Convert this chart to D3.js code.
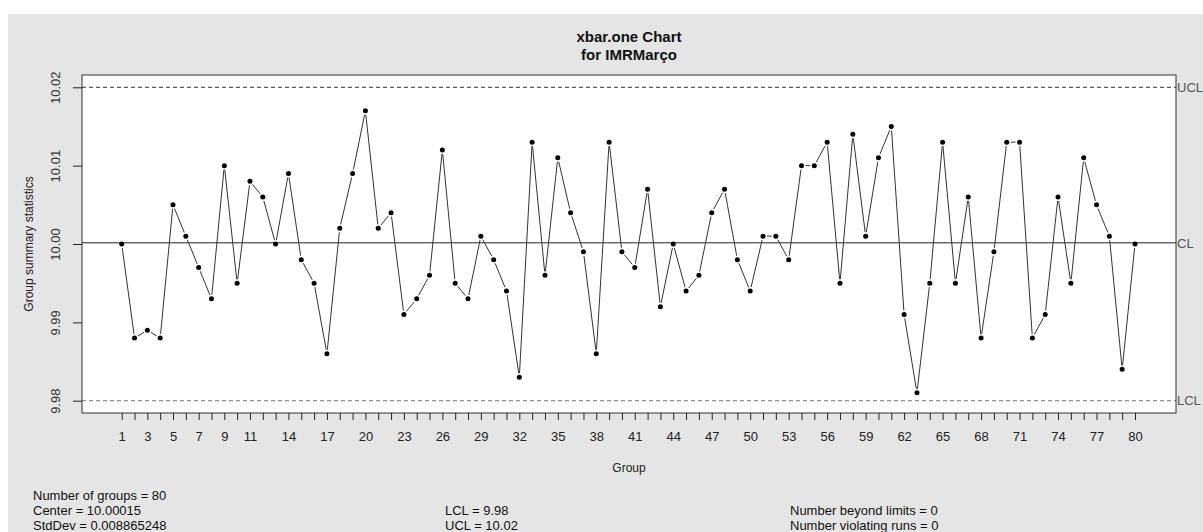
<!DOCTYPE html>
<html>
<head>
<meta charset="utf-8">
<script src="https://cdn.jsdelivr.net/npm/d3@7"></script>
<style>
  body { margin: 0; background: #fff; }
  text { font-family: "Liberation Sans", Arial, sans-serif; }
</style>
</head>
<body>
<svg id="chart" width="1203" height="532"></svg>
<script>
// group numbers and one value per group
var groups = d3.range(1, 81);
var values = [
  10.000, 9.988, 9.989, 9.988, 10.005, 10.001, 9.997, 9.993, 10.010, 9.995,
  10.008, 10.006, 10.000, 10.009, 9.998, 9.995, 9.986, 10.002, 10.009, 10.017,
  10.002, 10.004, 9.991, 9.993, 9.996, 10.012, 9.995, 9.993, 10.001, 9.998,
  9.994, 9.983, 10.013, 9.996, 10.011, 10.004, 9.999, 9.986, 10.013, 9.999,
  9.997, 10.007, 9.992, 10.000, 9.994, 9.996, 10.004, 10.007, 9.998, 9.994,
  10.001, 10.001, 9.998, 10.010, 10.010, 10.013, 9.995, 10.014, 10.001, 10.011,
  10.015, 9.991, 9.981, 9.995, 10.013, 9.995, 10.006, 9.988, 9.999, 10.013,
  10.013, 9.988, 9.991, 10.006, 9.995, 10.011, 10.005, 10.001, 9.984, 10.000
];
var xTickLabels = [1, 3, 5, 7, 9, 11, 14, 17, 20, 23, 26, 29, 32, 35, 38, 41, 44,
  47, 50, 53, 56, 59, 62, 65, 68, 71, 74, 77, 80];
var yTicks = [9.98, 9.99, 10.00, 10.01, 10.02];
var limitNames = ["UCL", "CL", "LCL"];
var limitValues = [10.02, 10.00015, 9.98];
var statsLeft = ["Number of groups = 80", "Center = 10.00015", "StdDev = 0.008865248"];
var statsMid = ["", "LCL = 9.98", "UCL = 10.02"];
var statsRight = ["", "Number beyond limits = 0", "Number violating runs = 0"];

var svg = d3.select("#chart");
var box = { left: 82, right: 1176, top: 75, bottom: 413 };

// gray device background
svg.append("rect")
  .attr("x", 8).attr("y", 14)
  .attr("width", 1195).attr("height", 518)
  .attr("fill", "#e5e5e5");

svg.append("rect")
  .attr("x", box.left).attr("y", box.top)
  .attr("width", box.right - box.left).attr("height", box.bottom - box.top)
  .attr("fill", "#fff");

var x = d3.scaleLinear().domain([1, 80]).range([121.7, 1135]);
var y = d3.scaleLinear().domain([9.98, 10.02]).range([400.7, 87.3]);

// title
svg.append("text").attr("x", 629).attr("y", 42)
  .attr("text-anchor", "middle").attr("font-size", 15).attr("font-weight", "bold")
  .attr("fill", "#111").text("xbar.one Chart");
svg.append("text").attr("x", 629).attr("y", 60)
  .attr("text-anchor", "middle").attr("font-size", 15).attr("font-weight", "bold")
  .attr("fill", "#111").text("for IMRMarço");

// control limit lines
limitNames.forEach(function (name, i) {
  var yy = y(limitValues[i]);
  svg.append("line")
    .attr("x1", box.left).attr("x2", box.right)
    .attr("y1", yy).attr("y2", yy)
    .attr("stroke", name == "CL" ? "#222" : (name == "UCL" ? "#333" : "#777"))
    .attr("stroke-width", 1)
    .attr("stroke-dasharray", name == "CL" ? null : "4,3");
  svg.append("text")
    .attr("x", box.right + 1).attr("y", yy)
    .attr("dy", "0.36em")
    .attr("font-size", 13).attr("fill", "#555")
    .text(name);
});

// lines with gaps around the points (type = "b")
var gap = 4;
for (var i = 0; i < values.length - 1; i++) {
  var x1 = x(groups[i]), y1 = y(values[i]),
  x2 = x(groups[i + 1]), y2 = y(values[i + 1]);
  var len = Math.sqrt((x2 - x1) * (x2 - x1) + (y2 - y1) * (y2 - y1));
  if (len <= 2 * gap) continue;
  var ux = (x2 - x1) / len, uy = (y2 - y1) / len;
  svg.append("line")
    .attr("x1", x1 + ux * gap).attr("y1", y1 + uy * gap)
    .attr("x2", x2 - ux * gap).attr("y2", y2 - uy * gap)
    .attr("stroke", "#333").attr("stroke-width", 1);
}

svg.selectAll("circle.pt")
  .data(values)
  .enter().append("circle")
  .attr("class", "pt")
  .attr("cx", function (d, i) { return x(groups[i]); })
  .attr("cy", function (d) { return y(d); })
  .attr("r", 2.5)
  .attr("fill", "#000");

// plot frame
svg.append("rect")
  .attr("x", box.left).attr("y", box.top)
  .attr("width", box.right - box.left).attr("height", box.bottom - box.top)
  .attr("fill", "none").attr("stroke", "#333").attr("stroke-width", 1);

// x axis
var xAxis = d3.axisBottom(x)
  .tickValues(groups)
  .tickSize(7)
  .tickPadding(12)
  .tickFormat(function (d) { return xTickLabels.indexOf(d) >= 0 ? d : ""; });
var gx = svg.append("g").attr("transform", "translate(0," + box.bottom + ")").call(xAxis);
gx.select(".domain").remove();
gx.selectAll(".tick line").attr("stroke", "#222");
gx.selectAll("text").attr("font-size", 13).attr("fill", "#222")
  .attr("font-family", "Liberation Sans, Arial, sans-serif");

// y axis
var yAxis = d3.axisLeft(y).tickValues(yTicks).tickSize(9)
  .tickFormat(d3.format(".2f"));
var gy = svg.append("g").attr("transform", "translate(" + box.left + ",0)").call(yAxis);
gy.select(".domain").remove();
gy.selectAll(".tick line").attr("stroke", "#222");
gy.selectAll("text")
  .attr("x", 0).attr("dy", 0)
  .attr("text-anchor", "middle")
  .attr("transform", "translate(-22,0) rotate(-90)")
  .attr("font-size", 13).attr("fill", "#333")
  .attr("font-family", "Liberation Sans, Arial, sans-serif");

// axis titles
svg.append("text").attr("x", 629).attr("y", 472)
  .attr("text-anchor", "middle").attr("font-size", 12).attr("fill", "#222")
  .text("Group");
svg.append("text")
  .attr("transform", "translate(33," + ((box.top + box.bottom) / 2) + ") rotate(-90)")
  .attr("text-anchor", "middle").attr("font-size", 12).attr("fill", "#222")
  .text("Group summary statistics");

// summary text under the chart
function statsBlock(lines, left) {
  lines.forEach(function (t, i) {
    if (!t) return;
    svg.append("text").attr("x", left).attr("y", 500 + i * 15)
      .attr("font-size", 13).attr("fill", "#111").text(t);
  });
}
statsBlock(statsLeft, 33);
statsBlock(statsMid, 445);
statsBlock(statsRight, 790);
</script>
</body>
</html>
